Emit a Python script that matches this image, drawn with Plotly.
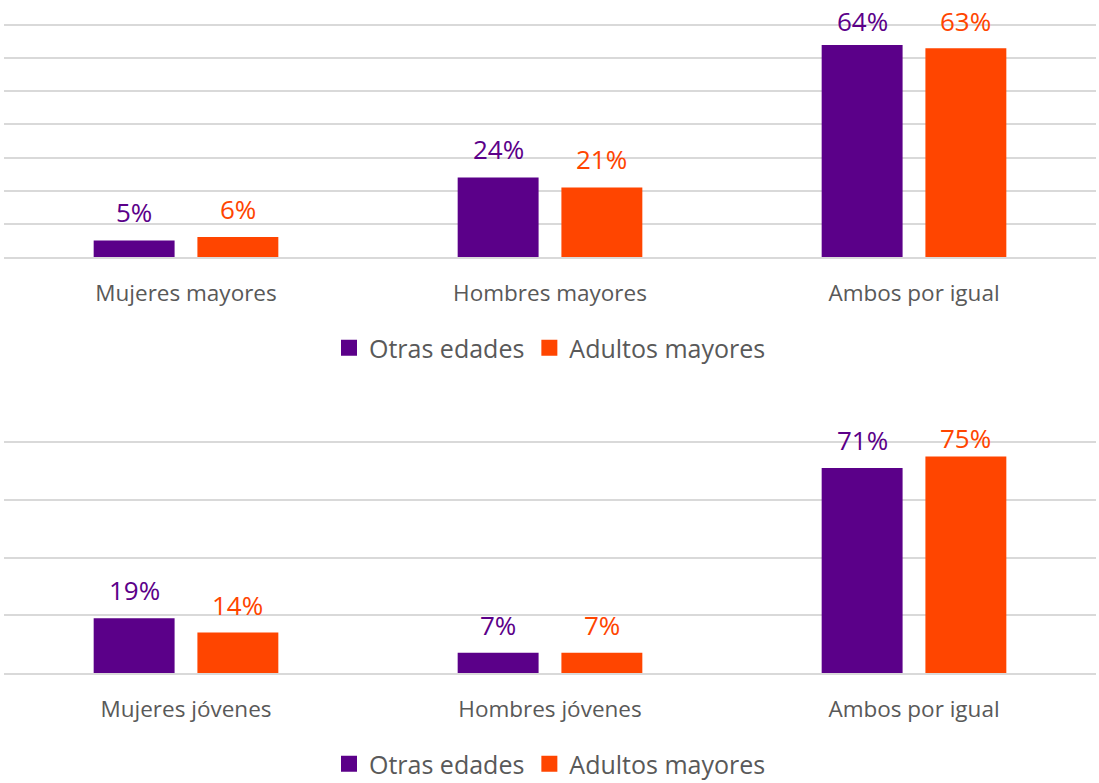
import plotly.graph_objects as go

# ---- data ----
series_names = ["Otras edades", "Adultos mayores"]
cats_top = ["Mujeres mayores", "Hombres mayores", "Ambos por igual"]
otras_top = [5, 24, 64]
adultos_top = [6, 21, 63]
cats_bot = ["Mujeres jóvenes", "Hombres jóvenes", "Ambos por igual"]
otras_bot = [19, 7, 71]
adultos_bot = [14, 7, 75]

# ---- style ----
W, H = 1099, 783
PURPLE = "#5B0089"
ORANGE = "#FF4500"
GRID = "#D9D9D9"
TXT = "#595959"
FONT = "Open Sans"
colors = [PURPLE, ORANGE]
BARGAP = 0.43
BARGROUPGAP = 0.22

# pixel geometry of the two panels: (pixel of top gridline, pixel of baseline)
top_panel = (25, 257)
bot_panel = (442, 673)
top_max, top_dtick = 70, 10
bot_max, bot_dtick = 80, 20
PAD_PX = 1.5  # extra room above the top gridline so it is drawn


def geom(panel, vmax):
    ppu = (panel[1] - panel[0]) / vmax
    rng = [0, vmax + PAD_PX / ppu]
    top_px = panel[0] - PAD_PX
    return ppu, rng, [1 - panel[1] / H, 1 - top_px / H]


fig = go.Figure()

panels = [
    ("x", "y", "legend", cats_top, [otras_top, adultos_top], top_panel, top_max),
    ("x2", "y2", "legend2", cats_bot, [otras_bot, adultos_bot], bot_panel, bot_max),
]

annotations = []
slot = (1 - BARGAP) / 2
layout_axes = {}
for xa, ya, lg, cats, vals, panel, vmax in panels:
    ppu, rng, ydom = geom(panel, vmax)
    layout_axes[ya] = (rng, ydom)
    for k, (name, v) in enumerate(zip(series_names, vals)):
        fig.add_trace(go.Bar(
            x=cats, y=v, name=name, marker=dict(color=colors[k], line=dict(width=0)),
            xaxis=xa, yaxis=ya, showlegend=False, hoverinfo="skip",
        ))
        # legend entry with a larger square symbol
        fig.add_trace(go.Scatter(
            x=[None], y=[None], mode="markers", name=name,
            marker=dict(symbol="square", size=16, color=colors[k]),
            xaxis=xa, yaxis=ya, legend=lg, showlegend=True, hoverinfo="skip",
        ))
        off = (k - 0.5) * slot
        for i, val in enumerate(v):
            shift = min(28, (vmax - val) * ppu + 4)
            annotations.append(dict(
                x=i + off, y=val, xref=xa, yref=ya, text=f"{val}%",
                showarrow=False, yanchor="middle", xanchor="center", yshift=shift,
                font=dict(family=FONT, size=26, color=colors[k]),
            ))

axis_common = dict(
    showgrid=True, gridcolor=GRID, gridwidth=1.5, showticklabels=False,
    zeroline=False, ticks="", fixedrange=True,
)
xaxis_common = dict(
    type="category", showgrid=False, showline=True, linecolor=GRID, linewidth=1.5,
    ticks="outside", ticklen=15, tickcolor="rgba(0,0,0,0)",
    tickfont=dict(family=FONT, size=22.5, color=TXT), domain=[0, 1], fixedrange=True,
)

legend_common = dict(
    orientation="h", xanchor="center", yanchor="middle", x=0.5,
    font=dict(family=FONT, size=25, color=TXT), bgcolor="rgba(0,0,0,0)",
    itemclick=False, itemdoubleclick=False, tracegroupgap=0,
)

fig.update_layout(
    width=W, height=H, autosize=False,
    margin=dict(l=4, r=3, t=0, b=0, autoexpand=False),
    paper_bgcolor="white", plot_bgcolor="white",
    barmode="group", bargap=BARGAP, bargroupgap=BARGROUPGAP,
    xaxis=dict(**xaxis_common, anchor="y"),
    xaxis2=dict(**xaxis_common, anchor="y2"),
    yaxis=dict(**axis_common, domain=layout_axes["y"][1], range=layout_axes["y"][0],
               dtick=top_dtick, anchor="x"),
    yaxis2=dict(**axis_common, domain=layout_axes["y2"][1], range=layout_axes["y2"][0],
                dtick=bot_dtick, anchor="x2"),
    legend=dict(**legend_common, y=1 - 348 / H),
    legend2=dict(**legend_common, y=1 - 764 / H),
    annotations=annotations,
    showlegend=True,
)

fig.write_html("out.html", config={"displayModeBar": False})
